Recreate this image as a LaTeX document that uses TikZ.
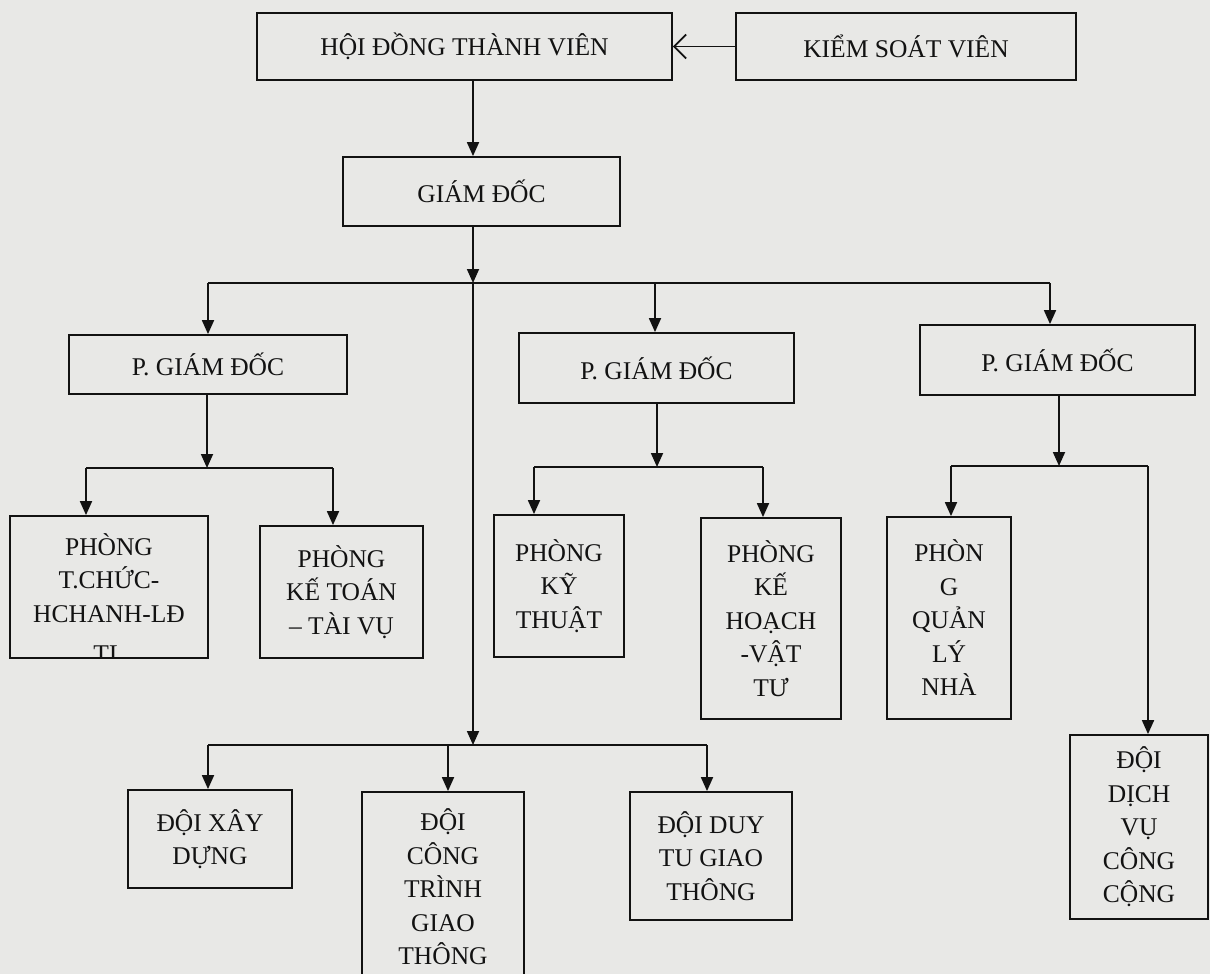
\documentclass[tikz,border=0pt]{standalone}
\usepackage{fontspec}
\setmainfont{Liberation Serif}
\usetikzlibrary{arrows.meta}
\definecolor{paper}{RGB}{232,232,230}
\definecolor{ink}{RGB}{18,18,18}
\tikzset{
  box/.style={draw=ink, line width=1.8pt, align=center, inner sep=0pt, text=ink,
    font=\fontsize{25.5}{33.5}\selectfont},
  sz/.style 2 args={minimum width=#1pt, minimum height=#2pt},
  txt/.style={inner sep=0pt, text=ink, font=\fontsize{25.5}{33.5}\selectfont},
  wire/.style={draw=ink, line width=1.8pt},
  arr/.style={wire, -{Triangle[width=12pt,length=14pt]}},
  openarr/.style={wire, -{Straight Barb[width=24pt,length=12pt,line width=1.8pt]}}
}
\begin{document}
\begin{tikzpicture}[x=1pt,y=-1pt]
\clip (0,0) rectangle (1210,974);
\fill[paper] (0,0) rectangle (1210,974);

% top level
\node[box, sz={415}{67}] (hdtv) at (464.5,46.5) {HỘI ĐỒNG THÀNH VIÊN};
\node[box, sz={340}{67}] (ksv) at (906,46.5) {KIỂM SOÁT VIÊN};
\node[box, sz={277}{69}] (gd) at (481.5,191.5) {GIÁM ĐỐC};

% deputies
\node[box, sz={278}{59}] (pgd1) at (208,364.5) {P. GIÁM ĐỐC};
\node[box, sz={275}{70}] (pgd2) at (656.5,368) {P. GIÁM ĐỐC};
\node[box, sz={275}{70}] (pgd3) at (1057.5,360) {P. GIÁM ĐỐC};

% departments
\node[box, sz={198}{142}] (ptc) at (109,587) {};
\begin{scope}
  \clip (11,517) rectangle (207,657);
  \node[txt, anchor=base] (ptctext) at (109,555) {\parbox[t]{190pt}{\centering PHÒNG\\T.CHỨC-\\HCHANH-LĐ\\[7pt]TL}};
\end{scope}
\node[box, sz={163}{132}] (pkttv) at (341.5,592) {PHÒNG\\KẾ TOÁN\\– TÀI VỤ};
\node[box, sz={130}{142}] (pkt) at (559,586) {PHÒNG\\KỸ\\THUẬT};
\node[box, sz={140}{201}] (pkhvt) at (771,618.5) {PHÒNG\\KẾ\\HOẠCH\\-VẬT\\TƯ};
\node[box, sz={124}{202}] (pqln) at (949,618) {PHÒN\\G\\QUẢN\\LÝ\\NHÀ};
\node[box, sz={138}{184}] (ddvcc) at (1139,827) {ĐỘI\\DỊCH\\VỤ\\CÔNG\\CỘNG};

% teams
\node[box, sz={164}{98}] (dxd) at (210,839) {ĐỘI XÂY\\DỰNG};
\node[box, sz={162}{190}] (dctgt) at (443,887) {ĐỘI\\CÔNG\\TRÌNH\\GIAO\\THÔNG};
\node[box, sz={162}{128}] (ddtgt) at (711,856) {ĐỘI DUY\\TU GIAO\\THÔNG};

% junction points
\coordinate (b1) at (473,283);
\coordinate (b1L) at (208,283);
\coordinate (b1M) at (655,283);
\coordinate (b1R) at (1050,283);
\coordinate (b2) at (473,745);
\coordinate (b2L) at (208,745);
\coordinate (b2M) at (448,745);
\coordinate (b2R) at (707,745);
\coordinate (b3) at (207,468);
\coordinate (b3L) at (86,468);
\coordinate (b3R) at (333,468);
\coordinate (b4) at (657,467);
\coordinate (b4L) at (534,467);
\coordinate (b4R) at (763,467);
\coordinate (b5) at (1059,466);
\coordinate (b5L) at (951,466);
\coordinate (b5R) at (1148,466);

% connectors
\draw[openarr] (ksv.west) -- (hdtv.east);
\draw[arr] (hdtv.south -| b1) -- (gd.north -| b1);
\draw[arr] (gd.south -| b1) -- (b1);
\draw[wire] (b1L) -- (b1R);
\draw[arr] (b1L) -- (pgd1.north -| b1L);
\draw[arr] (b1M) -- (pgd2.north -| b1M);
\draw[arr] (b1R) -- (pgd3.north -| b1R);
\draw[arr] (b1) -- (b2);

\draw[wire] (b2L) -- (b2R);
\draw[arr] (b2L) -- (dxd.north -| b2L);
\draw[arr] (b2M) -- (dctgt.north -| b2M);
\draw[arr] (b2R) -- (ddtgt.north -| b2R);

\draw[arr] (pgd1.south -| b3) -- (b3);
\draw[wire] (b3L) -- (b3R);
\draw[arr] (b3L) -- (ptc.north -| b3L);
\draw[arr] (b3R) -- (pkttv.north -| b3R);

\draw[arr] (pgd2.south -| b4) -- (b4);
\draw[wire] (b4L) -- (b4R);
\draw[arr] (b4L) -- (pkt.north -| b4L);
\draw[arr] (b4R) -- (pkhvt.north -| b4R);

\draw[arr] (pgd3.south -| b5) -- (b5);
\draw[wire] (b5L) -- (b5R);
\draw[arr] (b5L) -- (pqln.north -| b5L);
\draw[arr] (b5R) -- (ddvcc.north -| b5R);
\end{tikzpicture}
\end{document}
